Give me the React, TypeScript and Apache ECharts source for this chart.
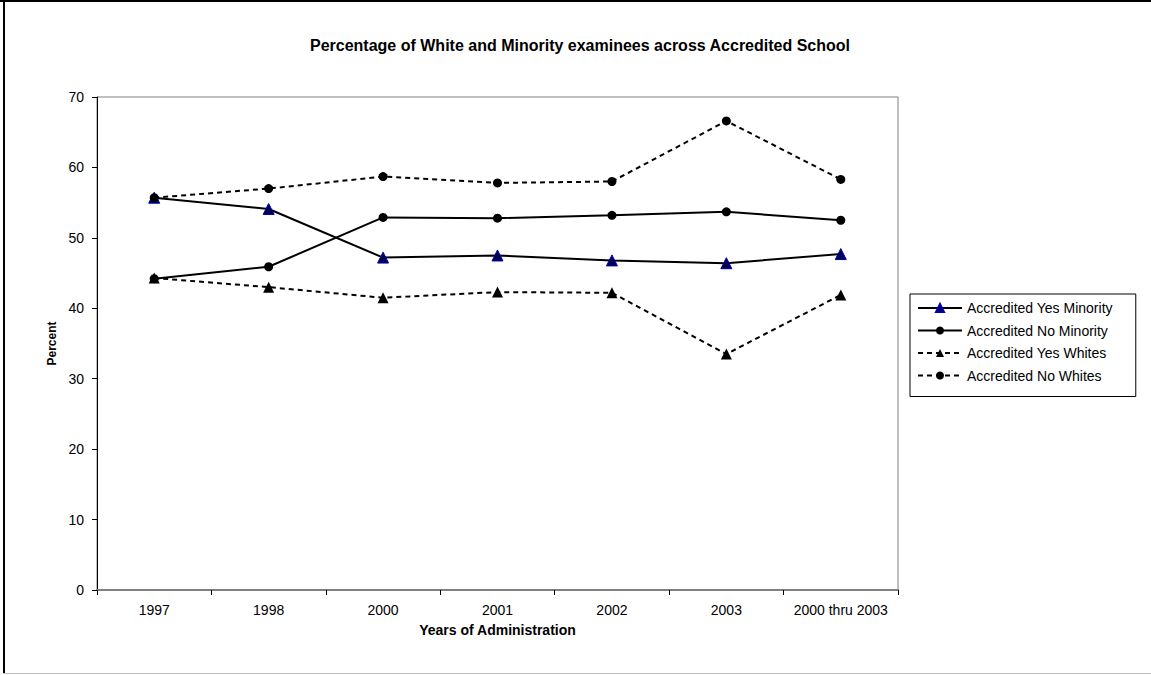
import React, { useEffect, useRef } from "react";
import * as echarts from "echarts";

const categories = ["1997", "1998", "2000", "2001", "2002", "2003", "2000 thru 2003"];
const yesMinority = [55.7, 54.1, 47.2, 47.5, 46.8, 46.4, 47.7];
const noMinority = [44.2, 45.9, 52.9, 52.8, 53.2, 53.7, 52.5];
const yesWhites = [44.3, 43.0, 41.5, 42.3, 42.2, 33.5, 41.9];
const noWhites = [55.7, 57.0, 58.7, 57.8, 58.0, 66.6, 58.3];

const FONT = "'Liberation Sans', Arial, sans-serif";

export default function App() {
  const ref = useRef<HTMLDivElement>(null);

  useEffect(() => {
    document.body.style.margin = "0";
    if (!ref.current) return;
    const chart = echarts.init(ref.current, undefined, { renderer: "svg" });

    const dash = [5, 4];

    chart.setOption({
      animation: false,
      backgroundColor: "#ffffff",
      textStyle: { fontFamily: FONT },
      graphic: [
        // outer frame edges
        { type: "rect", shape: { x: 0, y: 0, width: 1151, height: 2 }, style: { fill: "#000" } },
        { type: "rect", shape: { x: 3, y: 0, width: 2, height: 674 }, style: { fill: "#000" } },
        { type: "rect", shape: { x: 3, y: 673, width: 1148, height: 1 }, style: { fill: "#c0c0c0" } },
        {
          type: "text",
          x: 580,
          y: 45,
          style: {
            text: "Percentage of White and Minority examinees across Accredited School",
            font: `bold 16px ${FONT}`,
            fill: "#000",
            textAlign: "center",
            textVerticalAlign: "middle",
          },
        },
      ],
      legend: {
        orient: "vertical",
        left: 910,
        top: 294,
        borderColor: "#000",
        borderWidth: 1,
        padding: [7, 23, 14, 7],
        itemWidth: 44,
        itemHeight: 10,
        itemGap: 8.5,
        textStyle: { fontFamily: FONT, fontSize: 14, color: "#000" },
        data: [
          "Accredited Yes Minority",
          "Accredited No Minority",
          "Accredited Yes Whites",
          "Accredited No Whites",
        ],
      },
      grid: {
        left: 97,
        right: 253,
        top: 97,
        bottom: 85,
        show: true,
        borderColor: "#808080",
        borderWidth: 1,
      },
      xAxis: {
        type: "category",
        data: categories,
        boundaryGap: true,
        name: "Years of Administration",
        nameLocation: "middle",
        nameGap: 33,
        nameTextStyle: { fontFamily: FONT, fontSize: 14, fontWeight: "bold", color: "#000" },
        axisLine: { lineStyle: { color: "#808080", width: 2 } },
        axisTick: { show: true, interval: 0, length: 5, inside: false, lineStyle: { color: "#000" } },
        axisLabel: { interval: 0, fontFamily: FONT, fontSize: 14, color: "#000", margin: 13 },
        splitLine: { show: false },
      },
      yAxis: {
        type: "value",
        min: 0,
        max: 70,
        interval: 10,
        name: "Percent",
        nameLocation: "middle",
        nameGap: 39,
        nameRotate: 90,
        nameTextStyle: { fontFamily: FONT, fontSize: 12, fontWeight: "bold", color: "#000" },
        axisLine: { show: true, lineStyle: { color: "#000", width: 1 } },
        axisTick: { show: true, length: 5, lineStyle: { color: "#000" } },
        axisLabel: { fontFamily: FONT, fontSize: 14, color: "#000", margin: 13 },
        splitLine: { show: false },
      },
      series: [
        {
          name: "Accredited Yes Minority",
          type: "line",
          data: yesMinority,
          symbol: "triangle",
          symbolSize: 11,
          showAllSymbol: true,
          lineStyle: { color: "#000", width: 2, type: "solid" },
          itemStyle: { color: "#000050", borderColor: "#0000b0", borderWidth: 1 },
        },
        {
          name: "Accredited No Minority",
          type: "line",
          data: noMinority,
          symbol: "circle",
          symbolSize: 9,
          showAllSymbol: true,
          lineStyle: { color: "#000", width: 2, type: "solid" },
          itemStyle: { color: "#000", borderColor: "#000", borderWidth: 0 },
        },
        {
          name: "Accredited Yes Whites",
          type: "line",
          data: yesWhites,
          symbol: "triangle",
          symbolSize: 11,
          showAllSymbol: true,
          lineStyle: { color: "#000", width: 2, type: dash },
          itemStyle: { color: "#000", borderColor: "#000", borderWidth: 0 },
        },
        {
          name: "Accredited No Whites",
          type: "line",
          data: noWhites,
          symbol: "circle",
          symbolSize: 9,
          showAllSymbol: true,
          lineStyle: { color: "#000", width: 2, type: dash },
          itemStyle: { color: "#000", borderColor: "#000", borderWidth: 0 },
        },
      ],
    });

    return () => chart.dispose();
  }, []);

  return <div ref={ref} style={{ width: 1151, height: 675 }} />;
}
